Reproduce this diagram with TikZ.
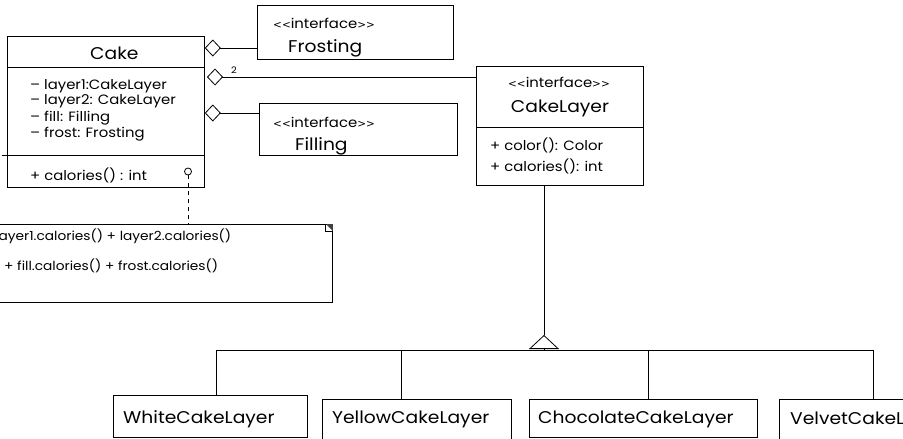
\documentclass[tikz,border=0pt]{standalone}
\usepackage{fontspec}
\setmainfont{Poppins}[FakeStretch=1.1]
\newfontfamily\bracketfont{DejaVu Sans}
\newcommand{\stereotype}[1]{{\bracketfont\fontsize{10.5}{12}\selectfont<<}#1{\bracketfont\fontsize{10.5}{12}\selectfont>>}}
\usepackage{tikz}
\usetikzlibrary{arrows.meta,positioning}
\tikzset{classbox/.style={
            draw,
            line width=0.8pt,
            inner sep=0pt,
            anchor=north west
        },
        line/.style={
            line width=0.8pt
        },
        txt/.style={
            anchor=base west,
            inner sep=0pt,
            font=\fontsize{13.5}{16}\selectfont
        },
        notetxt/.style={
            anchor=base west,
            inner sep=0pt,
            font=\fontsize{12.5}{15}\selectfont
        },
        bigtxt/.style={
            anchor=base west,
            inner sep=0pt,
            font=\fontsize{17}{20}\selectfont
        },
        agg/.style={
            line width=0.8pt,
            {Diamond[open,length=16pt,width=17pt]}-
        },
        gen/.style={
            line width=0.8pt,
            -{Triangle[open,length=14pt,width=30pt]}
        }
    }

\begin{document}
\begin{tikzpicture}[x=1pt,y=-1pt]
        \useasboundingbox (0,0) rectangle (903,439);
        \clip (0,0) rectangle (903,439);

        \node[classbox, minimum width=197pt, minimum height=151pt] (cake) at (7,36) {};
        \draw[line] (cake.west |- 0,67) -- (cake.east |- 0,67);
        \draw[line] (2,155) -- (cake.east |- 0,155);
        \node[bigtxt] (cakename) at (90,59) {Cake};
        \node[txt] (attr1) at (30,89) {\textendash{} layer1:CakeLayer};
        \node[txt] (attr2) at (30,104) {\textendash{} layer2: CakeLayer};
        \node[txt] (attr3) at (30,121) {\textendash{} fill: Filling};
        \node[txt] (attr4) at (30,137) {\textendash{} frost: Frosting};
        \node[txt] (op1) at (30,180) {+ calories() : int};
        \node[circle, draw, line width=0.8pt, inner sep=0pt, minimum size=7pt] (port) at (188,171.5) {};

        \node[classbox, minimum width=196pt, minimum height=54pt] (frosting) at (257,5) {};
        \node[txt] (frostst) at (273,28) {\stereotype{interface}};
        \node[bigtxt] (frostname) at (288,52) {Frosting};

        \node[classbox, minimum width=198pt, minimum height=52pt] (filling) at (259,103) {};
        \node[txt] (fillst) at (273,127) {\stereotype{interface}};
        \node[bigtxt] (fillname) at (295,150) {Filling};

        \node[classbox, minimum width=167pt, minimum height=119pt] (cakelayer) at (476,66) {};
        \draw[line] (cakelayer.west |- 0,127) -- (cakelayer.east |- 0,127);
        \node[txt, anchor=base] (layerst) at (559,87) {\stereotype{interface}};
        \node[bigtxt, anchor=base] (layername) at (560,112) {CakeLayer};
        \node[txt] (lop1) at (490,150) {+ color(): Color};
        \node[txt] (lop2) at (490,171) {+ calories(): int};

        \coordinate (layerend) at (207,77);
        \draw[agg] (cake.east |- 0,48) -- (frosting.west |- 0,48);
        \draw[agg] (layerend) -- (cakelayer.west |- layerend) node[pos=0.1, above, font=\fontsize{9}{10}\selectfont] {2};
        \draw[agg] (cake.east |- 0,113) -- (filling.west |- 0,113);

        \node[classbox, minimum width=340pt, minimum height=78pt] (note) at (-8,224) {};
        \node[notetxt] (note1) at (-5,240) {layer1.calories() + layer2.calories()};
        \node[notetxt] (note2) at (4,270) {+ fill.calories() + frost.calories()};
        \draw[line] (note.north east) ++(-7,0) rectangle ++(7,7);
        \fill[black!75] (note.north east) -- ++(-7,0) -- ++(7,7) -- cycle;
        \draw[line, dash pattern=on 4pt off 4pt] (port) -- (note.north -| port);

        \node[classbox, minimum width=194pt, minimum height=42pt] (white) at (113,395) {};
        \node[bigtxt] (whitename) at (123,423) {WhiteCakeLayer};
        \node[classbox, minimum width=189pt, minimum height=50pt] (yellow) at (322,399) {};
        \node[bigtxt] (yellowname) at (332,423) {YellowCakeLayer};
        \node[classbox, minimum width=228pt, minimum height=38pt] (choc) at (529,399) {};
        \node[bigtxt] (chocname) at (538,423) {ChocolateCakeLayer};
        \node[classbox, minimum width=160pt, minimum height=50pt] (velvet) at (779,399) {};
        \node[bigtxt] (velvetname) at (790,424) {VelvetCakeLayer};

        \coordinate (bus) at (544,350);
        \coordinate (apex) at (544,335);
        \draw[gen] (bus) -- (apex);
        \draw[line] (apex) -- (apex |- cakelayer.south);
        \draw[line] (216,0 |- white.north) |- (873,0 |- bus) -- (873,0 |- velvet.north);
        \draw[line] (401,0 |- yellow.north) -- (401,0 |- bus);
        \draw[line] (648,0 |- choc.north) -- (648,0 |- bus);

    \end{tikzpicture}
\end{document}
